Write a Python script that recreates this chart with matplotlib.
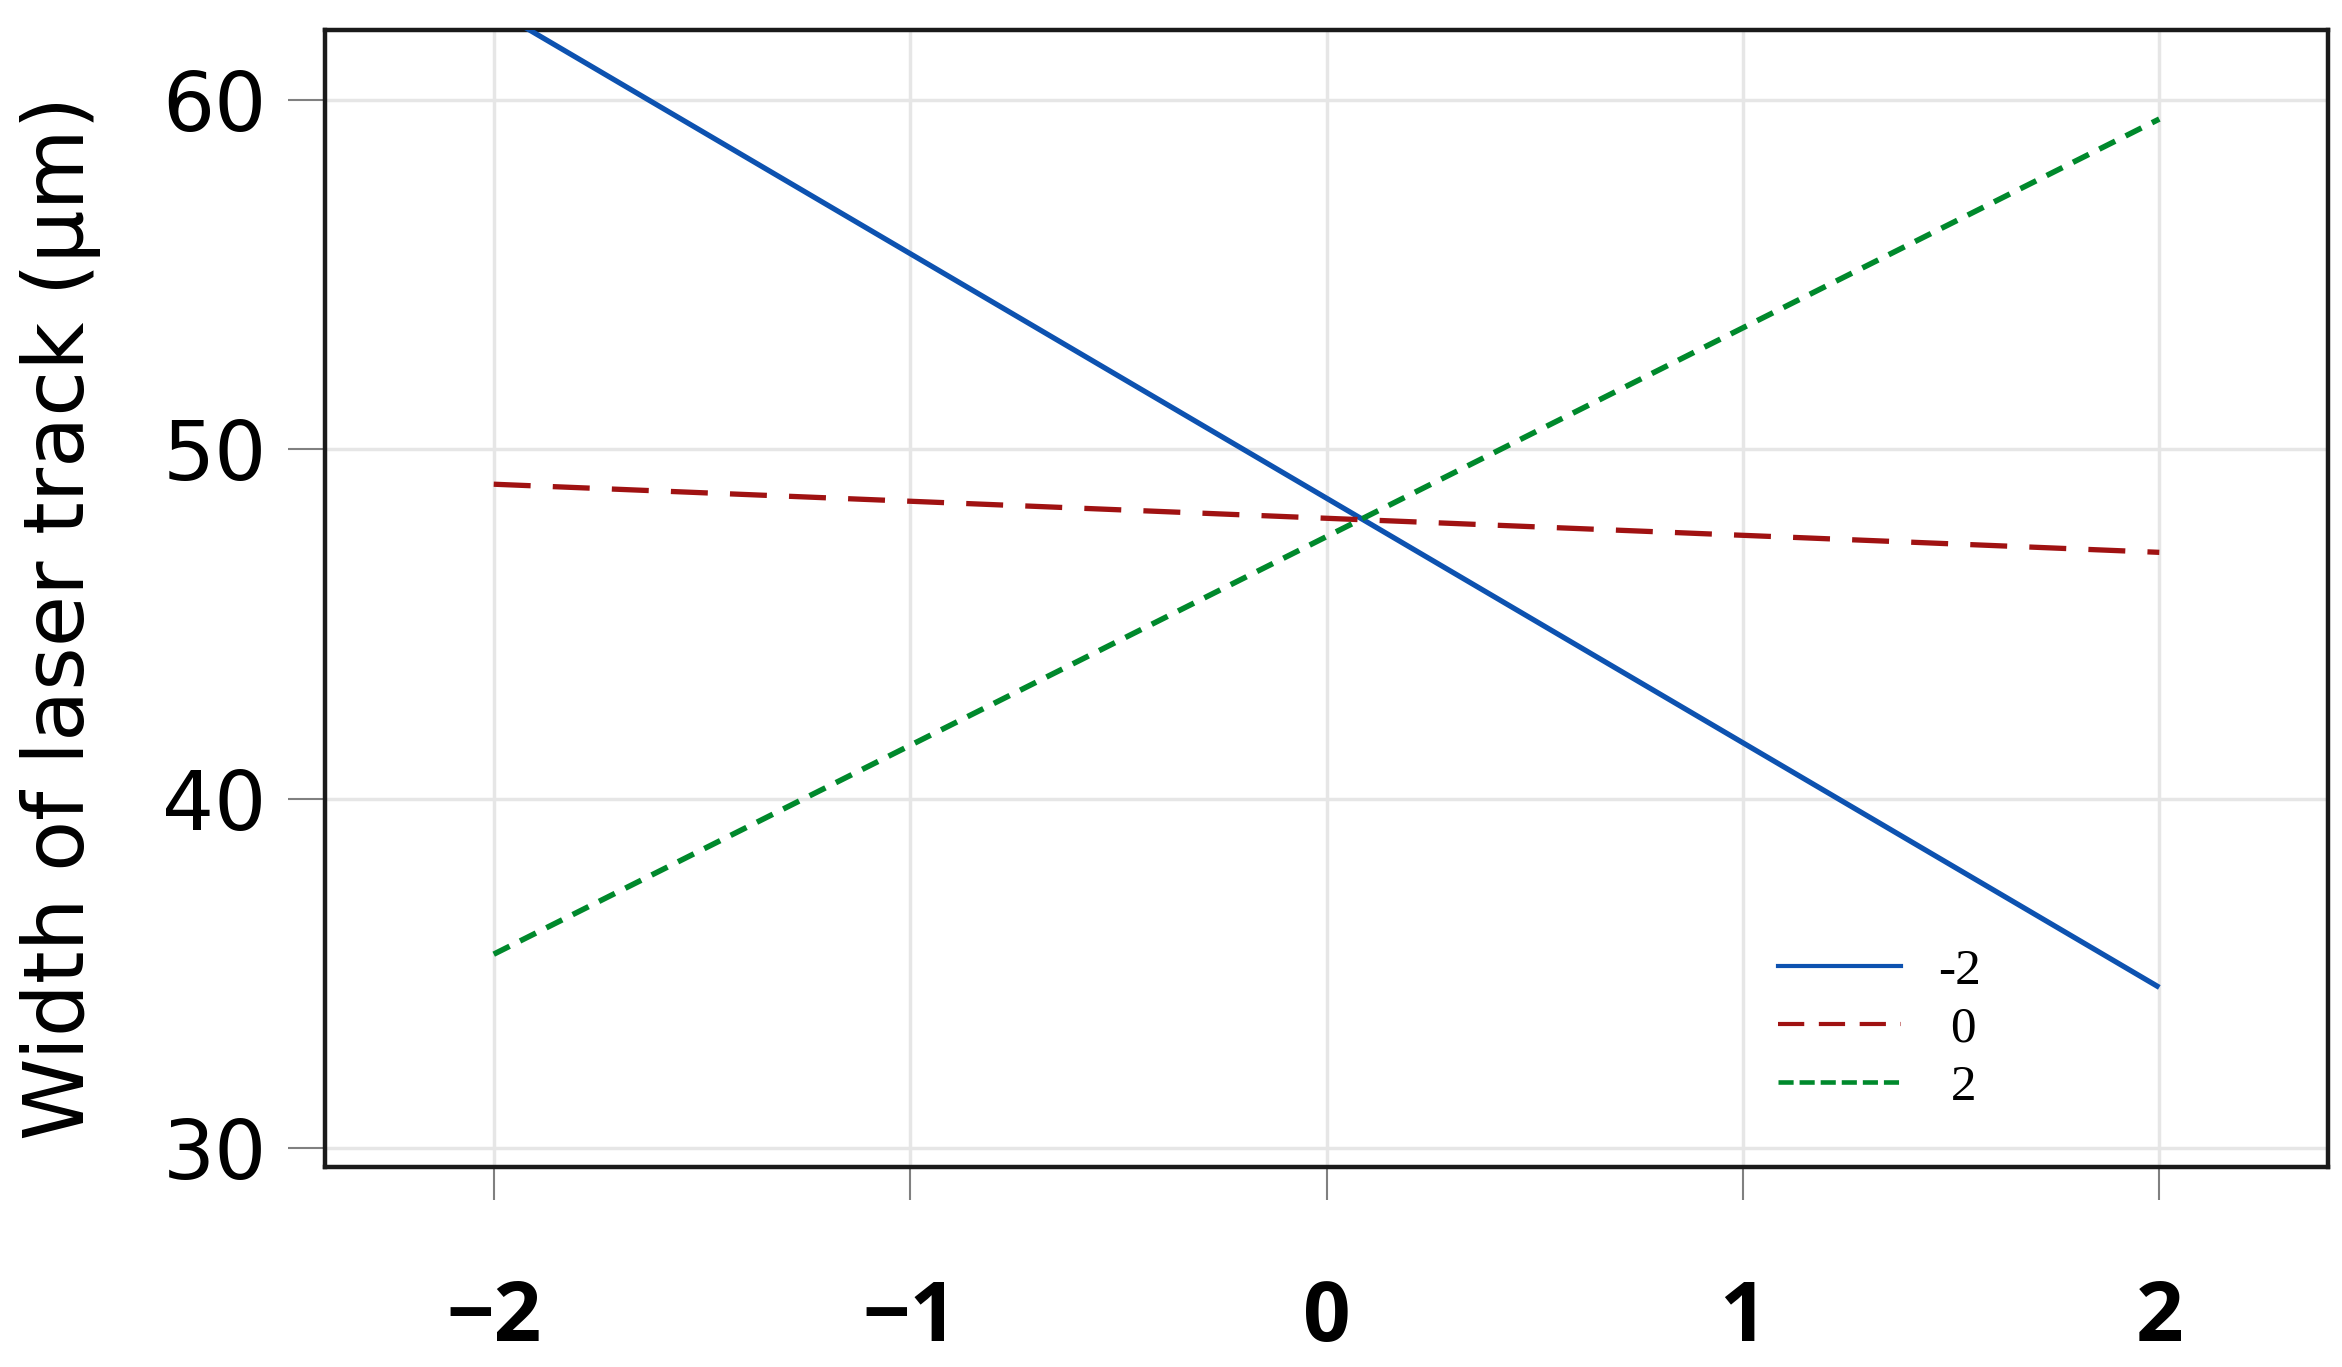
import matplotlib
matplotlib.use("Agg")
from matplotlib import pyplot as plt
from matplotlib.lines import Line2D

# %% data
x_levels = [-2, 2]
width_m2 = [62.6, 34.6]   # second factor at -2
width_0 = [49.0, 47.05]   # second factor at 0
width_p2 = [35.55, 59.45] # second factor at 2
series_labels = ["-2", " 0", " 2"]

x_ticks = [-2, -1, 0, 1, 2]
x_ticklabels = ["\u22122", "\u22121", "0", "1", "2"]
y_ticks = [30, 40, 50, 60]

blue = "#0d52b0"
red = "#a01212"
green = "#00892c"

# %%
fig = plt.figure(figsize=(23.42, 13.67), dpi=100)
ax = fig.add_axes([0.1388, 0.1463, 0.8552, 0.8318])

ax.plot(x_levels, width_m2, color=blue, lw=3.8, solid_capstyle="butt", zorder=3)
ax.plot(x_levels, width_0, color=red, lw=3.8, dashes=(7.0, 4.2), zorder=3)
ax.plot(x_levels, width_p2, color=green, lw=4.0, dashes=(3.2, 2.1), zorder=3)

ax.set_xlim(-2.405, 2.405)
ax.set_ylim(29.46, 62.0)
ax.set_xticks(x_ticks)
ax.set_xticklabels(x_ticklabels, fontfamily="Open Sans", fontweight="bold", fontsize=60)
ax.set_yticks(y_ticks)
ax.set_yticklabels([str(v) for v in y_ticks], fontfamily="DejaVu Sans", fontsize=59)

ax.grid(True, color="#e6e6e6", lw=2.5, zorder=0)
ax.set_axisbelow(True)
ax.tick_params(axis="x", length=24, width=1.5, color="#808080", pad=56)
ax.tick_params(axis="y", length=27, width=1.5, color="#808080", pad=15)
for s in ax.spines.values():
    s.set_linewidth(3.2)
    s.set_color("#1a1a1a")

ax.set_ylabel("Width of laser track (\u00b5m)", fontfamily="DejaVu Sans", fontsize=60)
ax.yaxis.set_label_coords(-0.112, 0.483)

# legend uses its own dash look
handles = [
    Line2D([], [], color=blue, lw=3.0),
    Line2D([], [], color=red, lw=3.0, dashes=(6.3, 3.5)),
    Line2D([], [], color=green, lw=3.3, dashes=(3.3, 1.3)),
]
ax.legend(handles, series_labels, loc="center left", bbox_to_anchor=(0.7254, 0.121),
          frameon=False, prop={"family": "Liberation Serif", "size": 37},
          handlelength=2.4, handletextpad=0.72, labelspacing=0.22,
          borderpad=0, borderaxespad=0)

plt.savefig("out.png", dpi=100)
